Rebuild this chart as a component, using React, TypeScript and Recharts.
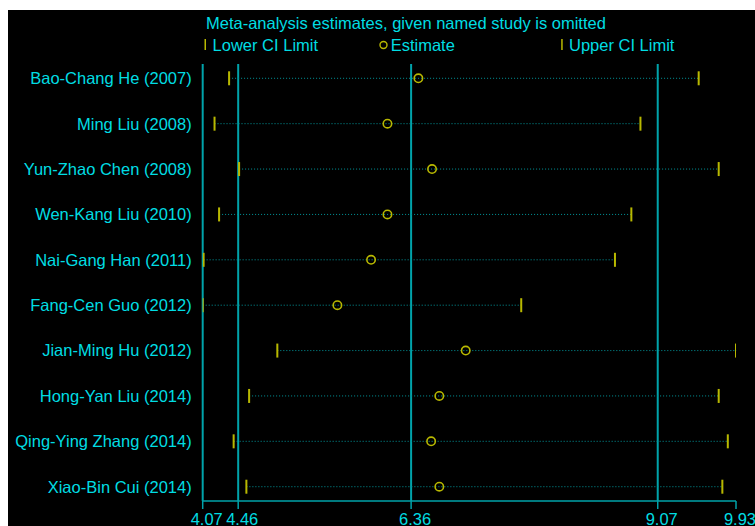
import { ScatterChart, Scatter, XAxis, YAxis, ReferenceLine, ErrorBar, Legend } from 'recharts'

// Leave-one-out sensitivity analysis: pooled estimate with each study omitted
const studies = [
  'Bao-Chang He (2007)',
  'Ming Liu (2008)',
  'Yun-Zhao Chen (2008)',
  'Wen-Kang Liu (2010)',
  'Nai-Gang Han (2011)',
  'Fang-Cen Guo (2012)',
  'Jian-Ming Hu (2012)',
  'Hong-Yan Liu (2014)',
  'Qing-Ying Zhang (2014)',
  'Xiao-Bin Cui (2014)',
]
const lowerCI = [4.36, 4.2, 4.47, 4.25, 4.08, 4.07, 4.89, 4.58, 4.41, 4.55]
const estimates = [6.44, 6.1, 6.59, 6.1, 5.92, 5.55, 6.96, 6.67, 6.58, 6.67]
const upperCI = [9.52, 8.88, 9.74, 8.78, 8.6, 7.57, 9.93, 9.74, 9.84, 9.78]

// overall pooled lower / estimate / upper
const pooled = [4.46, 6.36, 9.07]
const xTicks = [4.07, 4.46, 6.36, 9.07, 9.93]
const xDomain = [4.07, 9.93]

const CYAN = '#00dde3'
const TEAL = '#00a3aa'
const DOTS = '#00969a'
const YELLOW = '#b8b800'
const FONT = '"Liberation Sans", Arial, sans-serif'

const lowerPts = studies.map((_, i) => ({ x: lowerCI[i], y: i }))
const upperPts = studies.map((_, i) => ({ x: upperCI[i], y: i }))
const estPts = studies.map((_, i) => ({
  x: estimates[i],
  y: i,
  err: [estimates[i] - lowerCI[i], upperCI[i] - estimates[i]],
}))

const LimitMark = (p: any) => <rect x={p.cx - 1} y={p.cy - 7} width={2} height={14} fill={YELLOW} />
const EstimateMark = (p: any) => (
  <circle cx={p.cx} cy={p.cy} r={4.2} fill="none" stroke={YELLOW} strokeWidth={1.6} />
)

function Header() {
  const text = { position: 'absolute' as const, whiteSpace: 'nowrap' as const }
  return (
    <div
      style={{
        position: 'relative',
        height: 54,
        fontFamily: FONT,
        fontSize: 16.5,
        lineHeight: '20px',
        color: CYAN,
      }}
    >
      <span style={{ ...text, left: 198, top: 2.5 }}>Meta-analysis estimates, given named study is omitted</span>
      <svg style={{ position: 'absolute', left: 192, top: 25 }} width={200} height={20}>
        <rect x={4.5} y={4} width={1.5} height={11} fill={YELLOW} />
        <circle cx={183.5} cy={10} r={3.5} fill="none" stroke={YELLOW} strokeWidth={1.4} />
      </svg>
      <svg style={{ position: 'absolute', left: 550, top: 25 }} width={10} height={20}>
        <rect x={3.2} y={4} width={1.5} height={11} fill={YELLOW} />
      </svg>
      <span style={{ ...text, left: 204.6, top: 25 }}>Lower CI Limit</span>
      <span style={{ ...text, left: 382.7, top: 25 }}>Estimate</span>
      <span style={{ ...text, left: 561, top: 25 }}>Upper CI Limit</span>
    </div>
  )
}

export default function App() {
  return (
    <div
      style={{
        position: 'fixed',
        left: 8,
        top: 10,
        width: 747,
        height: 520,
        background: '#000',
        overflow: 'hidden',
      }}
    >
      <ScatterChart width={747} height={520} margin={{ top: 0, right: 19, bottom: 0, left: 0 }}>
        <Legend verticalAlign="top" align="left" content={() => <Header />} />
        <XAxis
          type="number"
          dataKey="x"
          domain={xDomain}
          ticks={xTicks}
          interval={0}
          allowDataOverflow
          height={29}
          tickSize={8}
          tickMargin={4}
          axisLine={{ stroke: TEAL, strokeWidth: 1.5 }}
          tickLine={{ stroke: TEAL, strokeWidth: 1.5 }}
          tick={{ fill: CYAN, fontSize: 16.5, fontFamily: FONT, dx: 4 }}
        />
        <YAxis
          type="number"
          dataKey="y"
          domain={[-0.315, 9.315]}
          reversed
          allowDataOverflow
          ticks={studies.map((_, i) => i)}
          interval={0}
          tickFormatter={(v) => studies[v] ?? ''}
          width={194.7}
          tickSize={0}
          tickMargin={11}
          tickLine={false}
          axisLine={{ stroke: TEAL, strokeWidth: 2 }}
          tick={{ fill: CYAN, fontSize: 16.5, fontFamily: FONT }}
        />
        {pooled.map((v) => (
          <ReferenceLine key={v} x={v} stroke={TEAL} strokeWidth={2} />
        ))}
        <Scatter data={estPts} shape={EstimateMark} isAnimationActive={false}>
          <ErrorBar
            dataKey="err"
            direction="x"
            width={0}
            stroke={DOTS}
            strokeWidth={1}
            strokeDasharray="1 2"
            isAnimationActive={false}
          />
        </Scatter>
        <Scatter data={lowerPts} shape={LimitMark} isAnimationActive={false} />
        <Scatter data={upperPts} shape={LimitMark} isAnimationActive={false} />
      </ScatterChart>
    </div>
  )
}
